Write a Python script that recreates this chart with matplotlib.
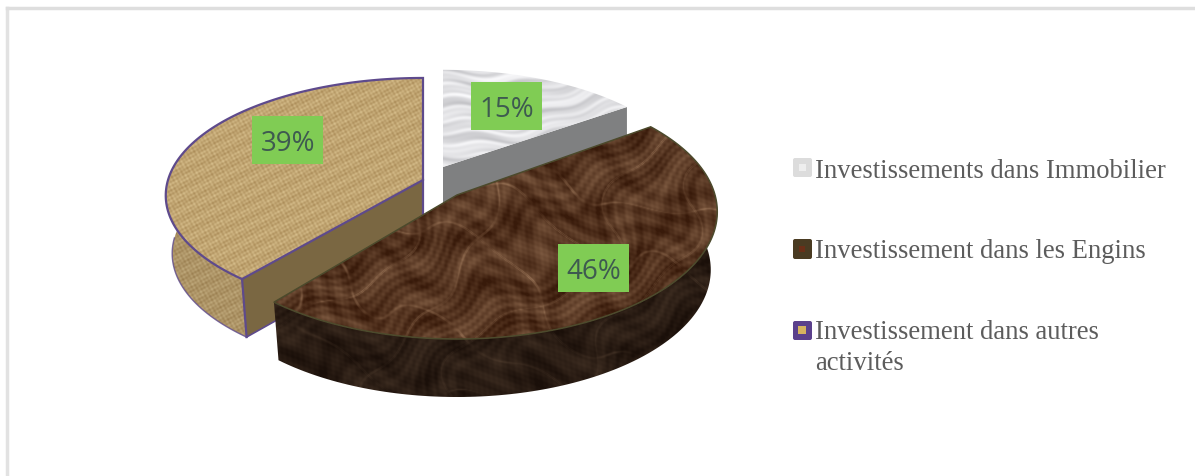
#Camembert 3D éclaté : répartition des investissements

import numpy as np
import matplotlib
matplotlib.use("Agg")
import matplotlib.pyplot as plt
from matplotlib.patches import Polygon, FancyBboxPatch, Rectangle
from matplotlib.lines import Line2D

categories = ["Investissements dans Immobilier",
              "Investissement dans les Engins",
              "Investissement dans autres\nactivités"]
valeurs = [15, 46, 39]

W, H = 1195, 477
K = 0.132
EP = 58
BAS = 0.975

# centre x, centre y, rayon x, rayon y de chaque part
geo_gris = (443, 168, 245, 110)
geo_brun = (457, 196, 258, 125)
geo_tan = (423, 181, 255, 115.5)

fig = plt.figure(figsize=(W / 100, H / 100), dpi=100)
ax = fig.add_axes([0, 0, 1, 1])

yy, xx = np.mgrid[0:H, 0:W].astype(float)


def projette(theta, geo, dz=0, f=1):
    cx, cy, rx, ry = geo
    t = np.deg2rad(theta)
    s = 1 / (1 + K * np.cos(t))
    return np.column_stack([cx + f * rx * np.sin(t) * s, cy - ry * np.cos(t) * s + dz])


def lisse(a, n=1):
    for _ in range(n):
        a = (a + np.roll(a, 1, 0) + np.roll(a, -1, 0) + np.roll(a, 1, 1) + np.roll(a, -1, 1)) / 5
    return a


def degrade(t, c1, c2):
    t = np.clip(t, 0, 1)[..., None]
    return np.array(c1) / 255 * (1 - t) + np.array(c2) / 255 * t


def texture_marbre_gris():
    wy = yy + 7 * np.sin(xx * 0.031 + 1) + 3 * np.sin(xx * 0.083 - yy * 0.05)
    d = xx * 0.035 + wy * 0.3
    v = 0.8 + 0.13 * np.sin(d) * np.sin(xx * 0.029 + yy * 0.07) + 0.1 * np.sin(d * 1.9 + 1) \
        + 0.07 * np.sin(d * 3.7 + xx * 0.04) - 0.1 * np.exp(-(np.sin(d * 0.9 + xx * 0.02) / 0.25) ** 2)
    return degrade(lisse(v, 2), (130, 130, 136), (250, 250, 252))


def texture_toile():
    m = np.sin(xx * 1.2 + yy * 0.3) * np.sin(yy * 1.2 - xx * 0.3)
    l = np.sin(xx * 0.71 + yy * 0.53) * np.sin(xx * 0.37 - yy * 0.83) + 0.6 * np.sin(xx * 0.19 + yy * 0.41)
    return degrade(lisse(0.52 + 0.3 * m + 0.1 * l, 1), (150, 116, 64), (232, 210, 160))


def texture_brune(sombre=False):
    wx = xx + 24 * np.sin(yy * 0.037 + 1.2) + 12 * np.sin(xx * 0.023 + yy * 0.061)
    wy = yy + 18 * np.sin(xx * 0.029) + 10 * np.sin(xx * 0.067 - yy * 0.043)
    n = 0.22 + 0.09 * np.sin(wx * 0.045 + wy * 0.11) + 0.08 * np.sin(wx * 0.11 - wy * 0.17) \
        + 0.07 * np.sin(wx * 0.29 + wy * 0.37) + 0.06 * np.sin(xx * 0.83 - yy * 0.71) * np.sin(xx * 0.37 + yy * 0.59)
    v1 = np.exp(-(np.sin(wx * 0.022 - wy * 0.04) / 0.035) ** 2)
    v2 = np.exp(-(np.sin(wx * 0.031 + wy * 0.025 + 1) / 0.03) ** 2)
    m = 0.5 + 0.5 * np.sin(wx * 0.09 + wy * 0.07) * np.sin(wx * 0.05 - wy * 0.13)
    t = lisse(n + 0.45 * (v1 + v2) * m, 1)
    if sombre:
        return degrade(t * 0.8, (26, 15, 9), (112, 88, 68))
    return degrade(t, (56, 26, 10), (190, 150, 116))


def remplit(poly, image):
    patch = Polygon(poly, closed=True, fc="none", ec="none")
    ax.add_patch(patch)
    im = ax.imshow(image, extent=(0, W, H, 0), aspect="auto", interpolation="bilinear", zorder=1)
    im.set_clip_path(patch)


def paroi_ext(t1, t2, geo):
    th = np.linspace(t1, t2, 120)
    return np.vstack([projette(th, geo), projette(th[::-1], geo, EP, BAS)])


bornes = np.cumsum([0] + valeurs) * 3.6
a_gris, a_brun, a_tan = bornes[1], bornes[2], bornes[3]

# part grise (derrière)
cg = np.array(geo_gris[:2], dtype=float)
pg = projette(np.array([a_gris]), geo_gris)[0]
ax.add_patch(Polygon([cg, pg, pg + [0, EP], cg + [0, EP]], fc="#7f8081", ec="none"))
th = np.linspace(0, a_gris, 80)
remplit(np.vstack([cg, projette(th, geo_gris)]), texture_marbre_gris())

# part toile
ct = np.array(geo_tan[:2], dtype=float)
pt = projette(np.array([a_brun]), geo_tan)[0]
pt_bas = projette(np.array([a_brun]), geo_tan, EP, BAS)[0]
violet = "#5e4a8c"
remplit(paroi_ext(a_brun, 282, geo_tan), texture_toile() * 0.9)
ax.add_patch(Polygon([ct, pt, pt_bas, ct + [0, EP]], fc="#7a6742", ec="none"))
th = np.linspace(a_brun, a_tan, 120)
surf = np.vstack([ct, projette(th, geo_tan)])
remplit(surf, texture_toile())
ax.add_patch(Polygon(surf, closed=True, fc="none", ec=violet, lw=1.6))
ax.plot([pt[0], pt_bas[0]], [pt[1], pt_bas[1]], color=violet, lw=1.6, zorder=1)
ax.plot([ct[0], ct[0]], [ct[1], ct[1] + EP], color=violet, lw=1.6, zorder=1)
b = projette(np.linspace(a_brun, 270, 80), geo_tan, EP, BAS)
ax.plot(b[:, 0], b[:, 1], color=violet, lw=1.0, alpha=0.8, zorder=1)
ax.plot([pt_bas[0], ct[0]], [pt_bas[1], ct[1] + EP], color=violet, lw=1.2, zorder=1)

# part brune (devant)
cb = np.array(geo_brun[:2], dtype=float)
remplit(paroi_ext(84, a_brun, geo_brun), texture_brune(True))
th = np.linspace(a_gris, a_brun, 160)
surf = np.vstack([cb, projette(th, geo_brun)])
remplit(surf, texture_brune())
ax.add_patch(Polygon(surf, closed=True, fc="none", ec="#4c4a2c", lw=1.1))

# étiquettes
pos_etiq = [(507, 107), (594, 269), (288, 141)]
for v, (x, y) in zip(valeurs, pos_etiq):
    ax.add_patch(Rectangle((x - 35.5, y - 24), 71, 48, fc="#80cc54", ec="none", zorder=5))
    ax.text(x, y + 3, f"{v}%", ha="center", va="center", family="Open Sans", fontsize=20,
            color="#3e5a50", zorder=6)

# légende
pos_leg = [(793, 159, 19, 19), (793, 240, 19, 20), (793, 322, 19, 19)]
coul_leg = ["#dcdcdc", "#4a3b22", "#5b408c"]
base_leg = [178, 258, 370]
for lab, (x, y, w, h), c, yb in zip(categories, pos_leg, coul_leg, base_leg):
    ax.add_patch(FancyBboxPatch((x + 2, y + 2), w - 4, h - 4, boxstyle="round,pad=2,rounding_size=2",
                                fc=c, ec="none", zorder=4))
    ax.text(815, yb, lab, ha="left", va="baseline", family="Liberation Serif", fontsize=19.2,
            color="#5c5c5c", linespacing=1.32, zorder=4)
ax.add_patch(Rectangle((799, 165), 7, 7, fc="#eeeeee", ec="none", zorder=5))
ax.add_patch(Rectangle((799, 247), 6, 6, fc="#6a2f18", ec="none", zorder=5))
ax.add_patch(Rectangle((798, 327), 8, 8, fc="#d6b35f", ec="none", zorder=5))

# cadre
ax.add_line(Line2D([7, 7], [9, H], color="#e2e2e2", lw=2.5))
ax.add_line(Line2D([7, W], [9, 9], color="#dedede", lw=2.5))

ax.set_xlim(0, W)
ax.set_ylim(H, 0)
ax.axis("off")
fig.savefig("out.png", dpi=100)
